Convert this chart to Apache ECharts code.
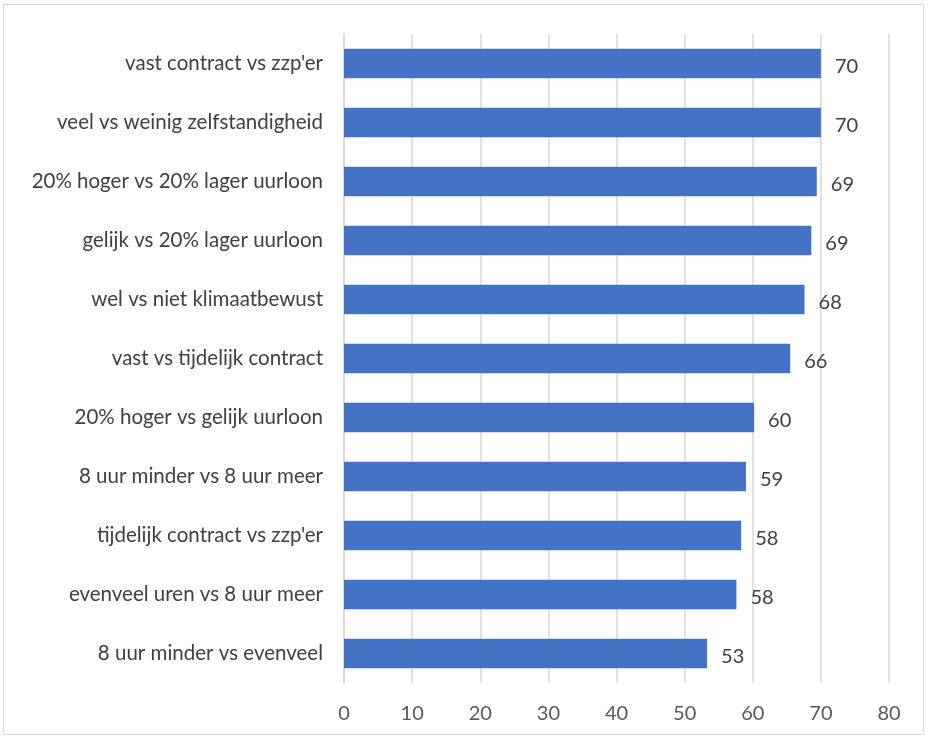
<!DOCTYPE html>
<html>
<head>
<meta charset="utf-8">
<script src="https://cdn.jsdelivr.net/npm/echarts@6/dist/echarts.min.js"></script>
<style>
html,body{margin:0;padding:0;background:#fff;}
#chart{width:928px;height:739px;}
</style>
</head>
<body>
<div id="chart"></div>
<script>
const categories = [
  "vast contract vs zzp'er",
  "veel vs weinig zelfstandigheid",
  "20% hoger vs 20% lager uurloon",
  "gelijk vs 20% lager uurloon",
  "wel vs niet klimaatbewust",
  "vast vs tijdelijk contract",
  "20% hoger vs gelijk uurloon",
  "8 uur minder vs 8 uur meer",
  "tijdelijk contract vs zzp'er",
  "evenveel uren vs 8 uur meer",
  "8 uur minder vs evenveel"
];
const values = [70.0, 70.0, 69.4, 68.6, 67.6, 65.5, 60.2, 59.0, 58.3, 57.6, 53.3];
const valueLabels = ["70", "70", "69", "69", "68", "66", "60", "59", "58", "58", "53"];
const xTicks = [0, 10, 20, 30, 40, 50, 60, 70, 80];

const chart = echarts.init(document.getElementById('chart'));
const font = 'Lato, "Open Sans", sans-serif';
chart.setOption({
  animation: false,
  backgroundColor: '#fff',
  graphic: [{
    type: 'rect',
    shape: {x: 3.5, y: 4.5, width: 920, height: 730},
    style: {fill: 'none', stroke: '#d9d9d9', lineWidth: 1}
  }],
  grid: {left: 344, right: 39, top: 34, bottom: 56, containLabel: false},
  xAxis: {
    type: 'value',
    min: xTicks[0],
    max: xTicks[xTicks.length - 1],
    interval: 10,
    axisLine: {show: false},
    axisTick: {show: false},
    splitLine: {show: true, lineStyle: {color: '#d9d9d9', width: 1.5}},
    axisLabel: {color: '#595959', fontSize: 20, fontFamily: font, margin: 21}
  },
  yAxis: {
    type: 'category',
    data: categories,
    inverse: true,
    axisLine: {show: true, lineStyle: {color: '#d9d9d9', width: 1.5}},
    axisTick: {show: false},
    axisLabel: {color: '#404040', fontSize: 20.5, fontFamily: font, margin: 21}
  },
  series: [{
    type: 'bar',
    data: values,
    barCategoryGap: '50%',
    itemStyle: {color: '#4472C4'},
    label: {
      show: true,
      position: 'right',
      distance: 14,
      offset: [0, 3],
      color: '#404040',
      fontSize: 20,
      fontFamily: font,
      formatter: p => valueLabels[p.dataIndex]
    }
  }]
});
</script>
</body>
</html>
